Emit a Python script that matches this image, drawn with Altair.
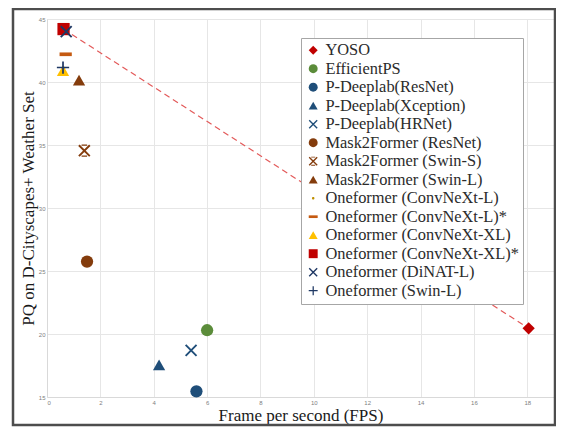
import altair as alt
import pandas as pd

models = [
    "YOSO",
    "EfficientPS",
    "P-Deeplab(ResNet)",
    "P-Deeplab(Xception)",
    "P-Deeplab(HRNet)",
    "Mask2Former (ResNet)",
    "Mask2Former (Swin-S)",
    "Mask2Former (Swin-L)",
    "Oneformer (ConvNeXt-L)",
    "Oneformer (ConvNeXt-L)*",
    "Oneformer (ConvNeXt-XL)",
    "Oneformer (ConvNeXt-XL)*",
    "Oneformer (DiNAT-L)",
    "Oneformer (Swin-L)",
]
fps = [18.05, 6.0, 5.6, 4.2, 5.4, 1.5, 1.4, 1.2, 0.62, 0.7, 0.6, 0.62, 0.72, 0.6]
pq = [20.45, 20.3, 15.45, 17.55, 18.7, 25.75, 34.55, 40.15, 41.1, 42.2, 40.9, 44.2, 44.0, 41.15]

colors = ["#c00000", "#5b8c3a", "#1f4e79", "#1f4e79", "#1f4e79", "#843c0c", "#843c0c",
          "#843c0c", "#bf9000", "#c55a11", "#ffc000", "#c00000", "#1f3864", "#1f3864"]

X_PATH = "M -1 -0.78 L -0.78 -1 L 1 0.78 L 0.78 1 Z M 0.78 -1 L 1 -0.78 L -0.78 1 L -1 0.78 Z"
PLUS_PATH = "M -1 -0.14 L 1 -0.14 L 1 0.14 L -1 0.14 Z M -0.14 -1 L 0.14 -1 L 0.14 1 L -0.14 1 Z"
DASH_PATH = "M -1 -0.3 L 1 -0.3 L 1 0.3 L -1 0.3 Z"
ASTER_PATH = (X_PATH + " M -0.45 -1 L 0.45 -1 L 0.45 -0.8 L -0.45 -0.8 Z"
              " M -0.45 0.8 L 0.45 0.8 L 0.45 1 L -0.45 1 Z")
DOT_PATH = "M -0.28 0 A 0.28 0.28 0 1 0 0.28 0 A 0.28 0.28 0 1 0 -0.28 0 Z"

shapes = ["diamond", "circle", "circle", "triangle-up", X_PATH, "circle", ASTER_PATH,
          "triangle-up", DOT_PATH, DASH_PATH, "triangle-up", "square", X_PATH, PLUS_PATH]

x_ticks = [0, 2, 4, 6, 8, 10, 12, 14, 16, 18]
y_ticks = [15, 20, 25, 30, 35, 40, 45]

df = pd.DataFrame({"model": models, "fps": fps, "pq": pq})
line_df = df[df["model"].isin(["Oneformer (ConvNeXt-XL)*", "YOSO"])]

x_enc = alt.X("fps:Q",
              scale=alt.Scale(domain=[0, 19], nice=False),
              axis=alt.Axis(values=x_ticks, title="Frame per second (FPS)",
                            titleY=18, titleBaseline="middle"))
y_enc = alt.Y("pq:Q",
              scale=alt.Scale(domain=[15, 45], nice=False, zero=False),
              axis=alt.Axis(values=y_ticks, title="PQ on D-Cityscapes+ Weather Set",
                            titleX=-19, titleY=189, titleBaseline="middle",
                            titleAlign="center"))

frame = alt.Chart(pd.DataFrame({"a": [0]})).mark_rect(
    filled=False, stroke="#4d4d4d", strokeWidth=2.5
).encode(
    x=alt.value(-34), x2=alt.value(508), y=alt.value(-10), y2=alt.value(406)
)

trend = alt.Chart(line_df).mark_line(
    color="#e35a5a", strokeDash=[6, 4], strokeWidth=1.2
).encode(x=x_enc, y=y_enc, order="fps:Q")

points = alt.Chart(df).mark_point(filled=True, opacity=1, strokeWidth=0, size=150).encode(
    x=x_enc,
    y=y_enc,
    color=alt.Color("model:N", scale=alt.Scale(domain=models, range=colors), title=None,
                    legend=alt.Legend(orient="none", legendX=254, legendY=19)),
    shape=alt.Shape("model:N", scale=alt.Scale(domain=models, range=shapes), title=None),
)

chart = alt.layer(frame, trend, points).properties(
    width=507, height=378,
    autosize=alt.AutoSizeParams(type="none"),
    padding={"left": 39, "top": 11, "right": 2, "bottom": 30},
).configure_view(
    strokeWidth=0
).configure_axis(
    grid=True, gridColor="#e6e6e6", gridWidth=1,
    domainColor="#d9d9d9", ticks=False,
    labelFont="Liberation Sans", labelFontSize=6, labelColor="#808080", labelPadding=2,
    titleFont="Liberation Serif", titleFontSize=17, titleFontWeight="normal",
    titleColor="#1a1a1a",
).configure_legend(
    labelFont="Liberation Serif", labelFontSize=16.4, labelColor="#2b2b2b",
    symbolSize=80, symbolStrokeWidth=0, rowPadding=1.5, labelOffset=4,
    padding=4, strokeColor="#a6a6a6", fillColor="#ffffff", labelLimit=400,
)

chart.save("out.html", embed_options={"renderer": "svg", "actions": False})
